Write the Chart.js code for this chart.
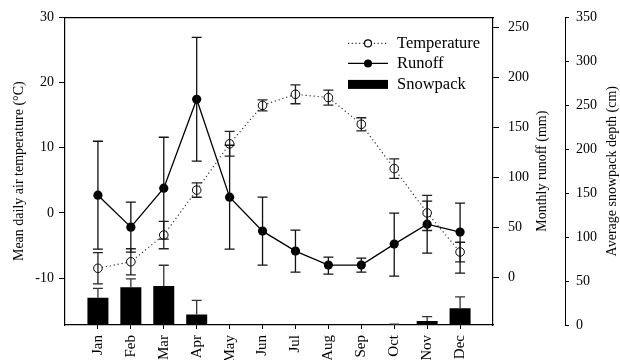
<!DOCTYPE html>
<html>
<head>
<meta charset="utf-8">
<script src="https://cdn.jsdelivr.net/npm/chart.js@4.4.1/dist/chart.umd.min.js"></script>
<style>
  html, body { margin: 0; padding: 0; background: #fff; }
  #wrap { width: 620px; height: 360px; position: relative; }
</style>
</head>
<body>
<div id="wrap"><canvas id="c" width="620" height="360"></canvas></div>
<script>
// ---- data ----
const months = ['Jan','Feb','Mar','Apr','May','Jun','Jul','Aug','Sep','Oct','Nov','Dec'];

const temperature    = [-8.5, -7.5, -3.4, 3.5, 10.6, 16.5, 18.2, 17.7, 13.6, 6.8, 0.0, -6.0];
const temperatureErr = [2.4, 2.0, 2.1, 1.1, 1.9, 0.85, 1.45, 1.15, 1.0, 1.5, 2.7, 1.5];

const runoff         = [82, 50, 89, 178, 80, 46, 26, 12, 12, 33, 53, 45];
const runoffErrUp    = [54, 25, 51, 62, 52, 34, 21, 8, 7, 31, 23, 29];
const runoffErrDown  = [54, 25, 51, 62, 52, 34, 21, 9, 7, 32, 29, 41];

const snowpack       = [31, 43, 44.5, 12, 0, 0, 0, 0, 0, 0, 4.5, 19];
const snowpackErr    = [10.7, 9.4, 23.5, 16, 0, 0, 0, 0, 0, 1, 5, 13];

const tempTicks   = [-10, 0, 10, 20, 30];
const runoffTicks = [0, 50, 100, 150, 200, 250];
const snowTicks   = [0, 50, 100, 150, 200, 250, 300, 350];

// ---- chart ----
const SERIF = "'Liberation Serif', 'Times New Roman', serif";
Chart.defaults.font.family = SERIF;
Chart.defaults.color = '#000';

const toXY = arr => arr.map((v, i) => ({ x: i + 1, y: v }));

const errorBars = {
  id: 'errorBars',
  afterDatasetsDraw(chart) {
    const ctx = chart.ctx;
    const xs = chart.scales.x;
    chart.data.datasets.forEach((ds, di) => {
      if (!ds.errUp) return;
      const ys = chart.scales[ds.yAxisID];
      ctx.save();
      ctx.strokeStyle = ds.errColor || '#000';
      ctx.lineWidth = 1.3;
      ds.data.forEach((pt, i) => {
        const up = ds.errUp[i];
        const dn = ds.errDown ? ds.errDown[i] : 0;
        if (!up && !dn) return;
        const x = xs.getPixelForValue(pt.x);
        const yT = ys.getPixelForValue(pt.y + up);
        const yB = ys.getPixelForValue(pt.y - dn);
        const half = 5;
        ctx.beginPath();
        ctx.moveTo(x, yT); ctx.lineTo(x, yB);
        ctx.moveTo(x - half, yT); ctx.lineTo(x + half, yT);
        if (ds.errDown) { ctx.moveTo(x - half, yB); ctx.lineTo(x + half, yB); }
        ctx.stroke();
      });
      ctx.restore();
    });
  }
};

const rightTitles = {
  id: 'rightTitles',
  afterDraw(chart) {
    const ctx = chart.ctx;
    const specs = [
      { id: 'yR', offset: 23 },
      { id: 'yS', offset: 8 }
    ];
    specs.forEach(s => {
      const sc = chart.scales[s.id];
      const t = sc.options.title;
      ctx.save();
      ctx.font = '14px ' + SERIF;
      ctx.fillStyle = '#000';
      ctx.textAlign = 'center';
      ctx.textBaseline = 'middle';
      ctx.translate(sc.right - s.offset, (sc.top + sc.bottom) / 2);
      ctx.rotate(-Math.PI / 2);
      ctx.fillText(t.text, 0, 0);
      ctx.restore();
    });
  }
};

const legendBox = {
  id: 'legendBox',
  afterDraw(chart) {
    const { ctx, chartArea } = chart;
    const x0 = chartArea.right - 145, x1 = x0 + 40, tx = x0 + 49;
    const rows = [chartArea.top + 26, chartArea.top + 46, chartArea.top + 67];
    const ds = chart.data.datasets;
    ctx.save();
    // Temperature
    ctx.strokeStyle = '#333'; ctx.lineWidth = 1.2; ctx.setLineDash([1.2, 2.5]);
    ctx.beginPath(); ctx.moveTo(x0, rows[0]); ctx.lineTo(x1, rows[0]); ctx.stroke();
    ctx.setLineDash([]);
    ctx.fillStyle = '#fff'; ctx.strokeStyle = '#000';
    ctx.beginPath(); ctx.arc((x0 + x1) / 2, rows[0], 3.5, 0, Math.PI * 2); ctx.fill(); ctx.stroke();
    // Runoff
    ctx.beginPath(); ctx.moveTo(x0, rows[1]); ctx.lineTo(x1, rows[1]); ctx.stroke();
    ctx.fillStyle = '#000';
    ctx.beginPath(); ctx.arc((x0 + x1) / 2, rows[1], 4, 0, Math.PI * 2); ctx.fill();
    // Snowpack
    ctx.fillRect(x0, rows[2] - 4.5, 40, 9);
    // text
    ctx.font = '16.5px ' + SERIF;
    ctx.textAlign = 'left'; ctx.textBaseline = 'middle';
    const byKey = k => ds.find(d => d.key === k).label;
    ctx.fillText(byKey('t'), tx, rows[0]);
    ctx.fillText(byKey('r'), tx, rows[1]);
    ctx.fillText(byKey('s'), tx, rows[2]);
    ctx.restore();
  }
};

const tickFont = { size: 14, family: SERIF };
const blackGrid = { drawOnChartArea: false, color: '#000', tickLength: 6, lineWidth: 1 };
const blackBorder = { color: '#000', width: 1.2 };

new Chart(document.getElementById('c'), {
  type: 'bar',
  data: {
    datasets: [
      {
        key: 't', type: 'line', label: 'Temperature', yAxisID: 'yT', order: 1,
        data: toXY(temperature),
        errUp: temperatureErr, errDown: temperatureErr, errColor: '#222',
        borderColor: '#333', borderWidth: 1.2, borderDash: [1.2, 2.8],
        pointRadius: 4.3, pointBorderWidth: 1, pointBorderColor: '#000', pointBackgroundColor: '#fff',
        tension: 0, fill: false
      },
      {
        key: 'r', type: 'line', label: 'Runoff', yAxisID: 'yR', order: 2,
        data: toXY(runoff),
        errUp: runoffErrUp, errDown: runoffErrDown, errColor: '#111',
        borderColor: '#000', borderWidth: 1.3,
        pointRadius: 4.6, pointBorderWidth: 0, pointBackgroundColor: '#000',
        tension: 0, fill: false
      },
      {
        key: 's', type: 'bar', label: 'Snowpack', yAxisID: 'yS', order: 3,
        data: toXY(snowpack),
        errUp: snowpackErr, errDown: null, errColor: '#333',
        backgroundColor: '#000', borderWidth: 0, barThickness: 21, inflateAmount: 0
      }
    ]
  },
  options: {
    responsive: false,
    animation: false,
    devicePixelRatio: 1,
    layout: { padding: { top: 16, left: 0, right: 0, bottom: 0 } },
    plugins: { legend: { display: false }, tooltip: { enabled: false } },
    scales: {
      x: {
        type: 'linear', position: 'bottom', min: 0, max: 13, offset: false,
        grid: { drawOnChartArea: false, color: '#000', tickLength: 4, offset: false },
        border: blackBorder,
        ticks: {
          autoSkip: false, maxRotation: 90, minRotation: 90, padding: 6,
          font: { size: 15, family: SERIF }, color: '#000',
          callback: v => months[v - 1] || ''
        },
        afterBuildTicks: s => { s.ticks = months.map((m, i) => ({ value: i + 1 })); },
        afterFit: s => { s.height = 35; }
      },
      xTop: {
        type: 'linear', position: 'top', min: 0, max: 13,
        grid: { display: true, drawOnChartArea: false, drawTicks: false, color: '#000' },
        border: blackBorder,
        ticks: { display: false },
        afterFit: s => { s.height = 0; }
      },
      yT: {
        type: 'linear', position: 'left', min: -17.2, max: 30,
        grid: blackGrid, border: blackBorder,
        ticks: { font: tickFont, color: '#000', padding: 5 },
        afterBuildTicks: s => { s.ticks = tempTicks.map(v => ({ value: v })); },
        title: { display: true, text: 'Mean daily air temperature (°C)', font: { size: 14, family: SERIF }, color: '#000', padding: { top: 11, bottom: 0 } },
        afterFit: s => { s.width = 65; }
      },
      yR: {
        type: 'linear', position: 'right', weight: 0, min: -48, max: 260,
        grid: { drawOnChartArea: false, color: '#000', tickLength: 6 }, border: blackBorder,
        ticks: { font: tickFont, color: '#000', padding: 9 },
        afterBuildTicks: s => { s.ticks = runoffTicks.map(v => ({ value: v })); },
        title: { display: false, text: 'Monthly runoff (mm)' },
        afterFit: s => { s.width = 72; }
      },
      yS: {
        type: 'linear', position: 'right', weight: 1, min: 0, max: 350,
        grid: { drawOnChartArea: false, color: '#000', tickLength: 4 }, border: { color: '#000', width: 1 },
        ticks: { font: tickFont, color: '#000', padding: 7 },
        afterBuildTicks: s => { s.ticks = snowTicks.map(v => ({ value: v })); },
        title: { display: false, text: 'Average snowpack depth (cm)' },
        afterFit: s => { s.width = 55; }
      }
    }
  },
  plugins: [errorBars, rightTitles, legendBox]
});
</script>
</body>
</html>
